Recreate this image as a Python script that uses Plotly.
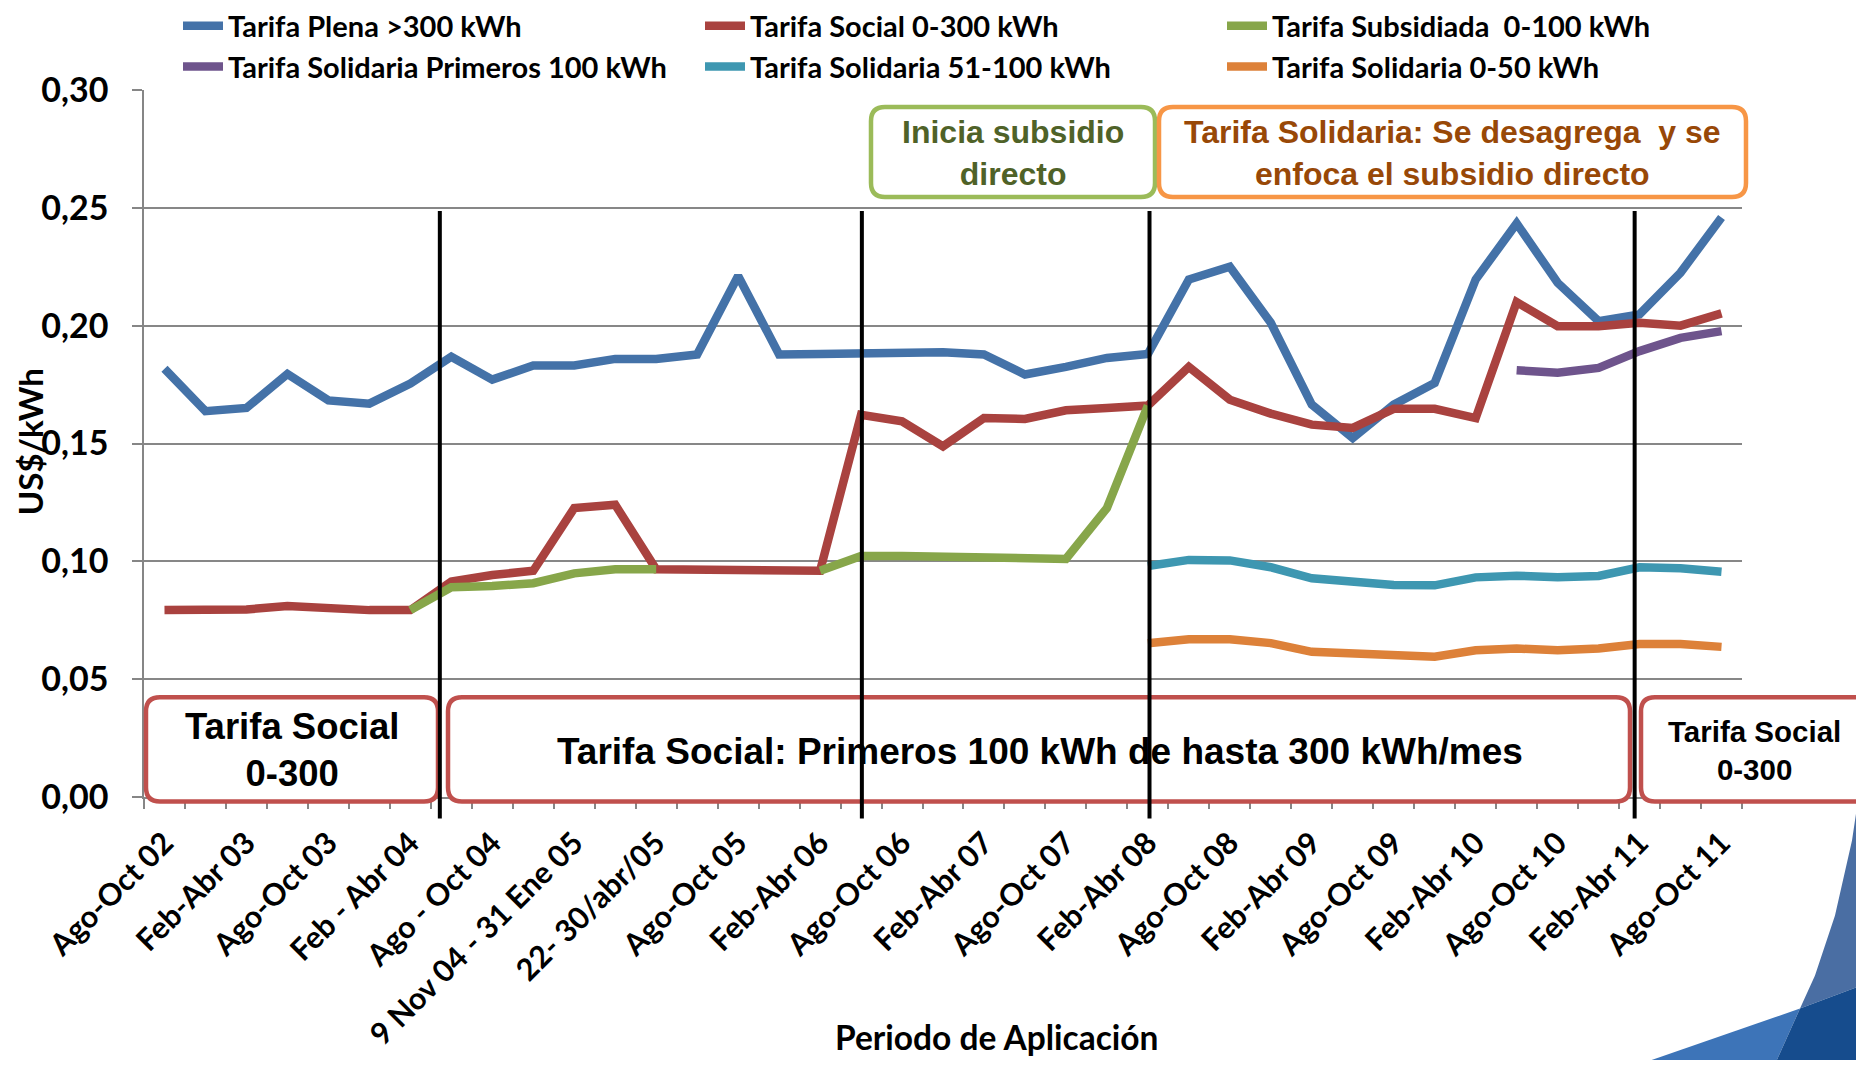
import plotly.graph_objects as go

# ── Data ──────────────────────────────────────────────────────────────────────
periodos = list(range(39))  # 39 periodos tarifarios, etiquetados uno de cada dos
etiquetas = [
    "Ago-Oct 02", "Feb-Abr 03", "Ago-Oct 03", "Feb - Abr 04", "Ago - Oct 04",
    "9 Nov 04 - 31 Ene 05", "22- 30/abr/05", "Ago-Oct 05", "Feb-Abr 06",
    "Ago-Oct 06", "Feb-Abr 07", "Ago-Oct 07", "Feb-Abr 08", "Ago-Oct 08",
    "Feb-Abr 09", "Ago-Oct 09", "Feb-Abr 10", "Ago-Oct 10", "Feb-Abr 11",
    "Ago-Oct 11",
]

plena = [0.1817, 0.1637, 0.1651, 0.1795, 0.1683, 0.1669, 0.1754, 0.1868, 0.1771,
         0.1831, 0.1831, 0.1859, 0.1859, 0.1878, 0.2211, 0.1878, 0.1880, 0.1882,
         0.1892, 0.1887, 0.1878, 0.1793, 0.1825, 0.1863, 0.1880, 0.2196, 0.2250,
         0.2012, 0.1665, 0.1523, 0.1665, 0.1757, 0.2196, 0.2434, 0.2182, 0.2019,
         0.2048, 0.2225, 0.2459]
social = [0.0793, 0.0791, 0.0796, 0.0810, 0.0801, 0.0793, 0.0793, 0.0914, 0.0942,
          0.0960, 0.1226, 0.1240, 0.0966, 0.0963, 0.0960, 0.0956, 0.0960, 0.1622,
          0.1594, 0.1488, 0.1608, 0.1604, 0.1641, 0.1651, 0.1661, 0.1825, 0.1686,
          0.1627, 0.1580, 0.1566, 0.1647, 0.1647, 0.1608, 0.2100, 0.1998, 0.1998,
          0.2012, 0.2000, 0.2052]
subsidiada = ([None] * 6
              + [0.0793, 0.0890, 0.0895, 0.0907, 0.0949, 0.0966, 0.0966]
              + [None] * 3
              + [0.0960, 0.1023, 0.1023, 0.1020, 0.1013, 0.1015, 0.1010, 0.1226, 0.1661]
              + [None] * 14)
solidaria_100 = [None] * 33 + [0.1811, 0.1800, 0.1821, 0.1892, 0.1948, 0.1977]
solidaria_51_100 = [None] * 24 + [0.0980, 0.1006, 0.1004, 0.0975, 0.0928, 0.0914,
                                  0.0900, 0.0898, 0.0932, 0.0939, 0.0932, 0.0938,
                                  0.0975, 0.0971, 0.0956]
solidaria_0_50 = [None] * 24 + [0.0652, 0.0669, 0.0669, 0.0653, 0.0616, 0.0609,
                                0.0595, 0.0595, 0.0623, 0.0630, 0.0623, 0.0630,
                                0.0649, 0.0649, 0.0637]

series = [
    ("Tarifa Plena >300 kWh", plena, "#4472A8"),
    ("Tarifa Social 0-300 kWh", social, "#A9423F"),
    ("Tarifa Subsidiada  0-100 kWh", subsidiada, "#87A64A"),
    ("Tarifa Solidaria Primeros 100 kWh", solidaria_100, "#6E548C"),
    ("Tarifa Solidaria 51-100 kWh", solidaria_51_100, "#3E97B1"),
    ("Tarifa Solidaria 0-50 kWh", solidaria_0_50, "#DD8139"),
]

# ── Layout geometry ───────────────────────────────────────────────────────────
# coordinates below are screen pixels; the page body adds an 8 px margin
OFF = 8
W, H = 1864 - 2 * OFF, 1068 - 2 * OFF
L, T = 144 - OFF, 90 - OFF
PW, PH = 1598, 706.6
R, B = W - L - PW, H - T - PH
CAL = "Lato, Carlito, sans-serif"
ARIAL = "Liberation Sans, Arial, sans-serif"


def pp(x, y):
    """screen pixel -> paper coordinates"""
    return (x - OFF - L) / PW, (T + PH - (y - OFF)) / PH


def rrect(x0, y0, x1, y1, r):
    pts = [("M", x0 + r, y0), ("L", x1 - r, y0), ("Q", x1, y0, x1, y0 + r),
           ("L", x1, y1 - r), ("Q", x1, y1, x1 - r, y1), ("L", x0 + r, y1),
           ("Q", x0, y1, x0, y1 - r), ("L", x0, y0 + r), ("Q", x0, y0, x0 + r, y0)]
    out = []
    for p in pts:
        coords = []
        for i in range(1, len(p), 2):
            a, b = pp(p[i], p[i + 1])
            coords.append(f"{a:.5f},{b:.5f}")
        out.append(p[0] + " " + " ".join(coords))
    return " ".join(out) + " Z"


def poly(points):
    s = []
    for k, (x, y) in enumerate(points):
        a, b = pp(x, y)
        s.append(("M" if k == 0 else "L") + f"{a:.5f},{b:.5f}")
    return " ".join(s) + " Z"


fig = go.Figure()
for name, vals, color in series:
    fig.add_trace(go.Scatter(
        x=periodos, y=vals, name=name, mode="lines",
        line=dict(color=color, width=8.5), connectgaps=False,
    ))

shapes = []
# decoración de la diapositiva (esquina inferior derecha)
shapes.append(dict(type="path", xref="paper", yref="paper", layer="below",
                   path=poly([(1864, 760), (1852, 840), (1835, 915), (1815, 975),
                              (1800, 1008), (1864, 984)]),
                   fillcolor="#4A6EA3", line=dict(width=0)))
shapes.append(dict(type="path", xref="paper", yref="paper", layer="below",
                   path=poly([(1627, 1068), (1800, 1008), (1773, 1068)]),
                   fillcolor="#3D74B8", line=dict(width=0)))
shapes.append(dict(type="path", xref="paper", yref="paper", layer="below",
                   path=poly([(1773, 1068), (1800, 1008), (1864, 984), (1864, 1068)]),
                   fillcolor="#164C8D", line=dict(width=0)))

# cuadros de texto
boxes = [
    (869, 105, 1157, 199, "#9BBB59"),
    (1157, 105, 1748, 199, "#F79646"),
    (144, 695, 440, 803, "#C0504D"),
    (446, 695, 1632, 803, "#C0504D"),
    (1639, 695, 1874, 803, "#C0504D"),
]
for x0, y0, x1, y1, c in boxes:
    shapes.append(dict(type="path", xref="paper", yref="paper", layer="above",
                       path=rrect(x0 + 2, y0 + 2, x1 - 2, y1 - 2, 14),
                       fillcolor="white", line=dict(color=c, width=4.5)))

# líneas verticales de cambio de esquema
for xv in [6.72, 17.02, 24.04, 35.88]:
    shapes.append(dict(type="line", xref="x", yref="paper", layer="above",
                       x0=xv, x1=xv, y0=pp(0, 211)[1], y1=pp(0, 818)[1],
                       line=dict(color="black", width=4)))

annotations = []
box_texts = [
    (1013, 153, "<b>Inicia subsidio<br>directo</b>", 32, "#4F6228"),
    (1452, 153, "<b>Tarifa Solidaria: Se desagrega\u00a0 y se<br>enfoca el subsidio directo</b>", 32, "#984807"),
    (292, 750, "<b>Tarifa Social<br>0-300</b>", 36.5, "black"),
    (1040, 751, "<b>Tarifa Social: Primeros 100 kWh de hasta 300 kWh/mes</b>", 37, "black"),
    (1754, 750, "<b>Tarifa Social<br>0-300</b>", 29.5, "black"),
]
for x, y, txt, size, col in box_texts:
    a, b = pp(x, y)
    annotations.append(dict(x=a, y=b, xref="paper", yref="paper", text=txt,
                            showarrow=False, xanchor="center", yanchor="middle",
                            font=dict(family=ARIAL, size=size, color=col)))

a, b = pp(997, 1036)
annotations.append(dict(x=a, y=b, xref="paper", yref="paper",
                        xanchor="center", yanchor="middle",
                        text="<b>Periodo de Aplicación</b>", showarrow=False,
                        font=dict(family=CAL, size=33.5, color="black")))
a, b = pp(30, 442)
annotations.append(dict(x=a, y=b, xref="paper", yref="paper", textangle=-90,
                        xanchor="center", yanchor="middle",
                        text="<b>US$/kWh</b>", showarrow=False,
                        font=dict(family=CAL, size=33, color="black")))

fig.update_layout(
    width=W, height=H,
    margin=dict(l=L, r=R, t=T, b=B, autoexpand=False),
    paper_bgcolor="white", plot_bgcolor="white",
    separators=",.",
    showlegend=True,
    legend=dict(orientation="h", x=pp(178, 0)[0], xanchor="left",
                y=pp(0, 0.5)[1], yanchor="top", entrywidth=467, itemwidth=40,
                font=dict(family=CAL, size=29, color="black", weight="bold"),
                bgcolor="rgba(0,0,0,0)", tracegroupgap=0),
    shapes=shapes,
    annotations=annotations,
)
fig.update_xaxes(
    range=[-0.5, 38.5], tickmode="array", automargin=False,
    tickvals=periodos[::2], ticktext=etiquetas,
    tickangle=-45, ticks="", ticklabelstandoff=14,
    tickfont=dict(family=CAL, size=30.5, color="black", weight="bold"),
    showgrid=False, zeroline=False,
    showline=True, linecolor="#868686", linewidth=1.5,
    minor=dict(ticks="outside", tick0=-0.5, dtick=1, ticklen=10,
               tickcolor="#868686", tickwidth=1.5, showgrid=False),
)
fig.update_yaxes(
    range=[0, 0.30], dtick=0.05, tickformat=".2f", automargin=False,
    ticks="outside", ticklen=10, tickcolor="#868686", tickwidth=1.5,
    ticklabelstandoff=17,
    tickfont=dict(family=CAL, size=34, color="black", weight="bold"),
    showgrid=True, gridcolor="#878787", gridwidth=1.5, zeroline=False,
    showline=True, linecolor="#868686", linewidth=1.5,
)

fig.write_html("out.html")
